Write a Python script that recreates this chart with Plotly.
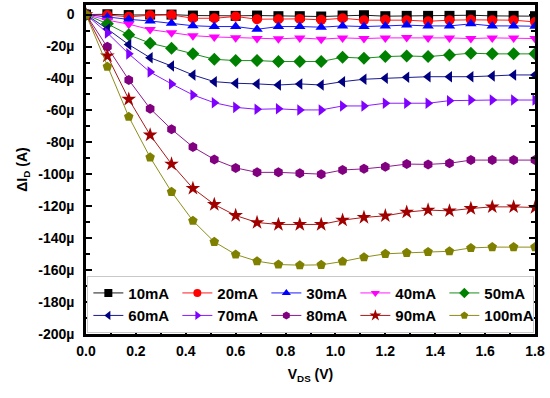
import plotly.graph_objects as go

vds = [0, 0.0857, 0.1714, 0.2571, 0.3429, 0.4286, 0.5143, 0.6, 0.6857, 0.7714, 0.8571,
       0.9429, 1.0286, 1.1143, 1.2, 1.2857, 1.3714, 1.4571, 1.5429, 1.6286, 1.7143, 1.8]

# delta I_D in microamps
i10 = [0, 0.2, -0.3, 0, 0, -0.6, -0.8, -0.8, -0.6, -1.0, -1.0, -1.2, -0.6, -0.4, -1.0, -0.8, -0.8, -0.8, -0.4, -0.8, -0.8, -1.0]
i20 = [0, -0.3, -1.4, -0.4, -0.2, -2.3, -2.3, -1.2, -2.9, -2.9, -2.7, -3.3, -2.3, -3.5, -3.3, -3.5, -4.2, -3.5, -3.3, -3.5, -3.5, -4.6]
i30 = [0, -1.5, -3.0, -4.0, -5.5, -7.0, -7.5, -7.5, -9.2, -7.5, -7.5, -7.9, -7.1, -7.5, -7.1, -6.6, -7.1, -7.1, -5.8, -7.1, -7.1, -7.3]
i40 = [0, -3.5, -6.0, -9.4, -11.3, -13.2, -14.0, -14.5, -15.0, -15.2, -14.6, -15.4, -14.6, -15.0, -14.6, -14.4, -14.6, -14.6, -15.0, -14.6, -14.6, -15.0]
i50 = [0, -5.8, -12.7, -17.9, -21.1, -24.6, -28.0, -28.8, -28.8, -29.4, -29.4, -29.4, -26.7, -27.3, -26.3, -25.9, -26.3, -25.3, -24.2, -24.6, -24.6, -24.6]
i60 = [0, -9.0, -18.8, -27.0, -32.2, -37.8, -42.0, -43.0, -43.4, -44.1, -43.4, -44.1, -42.0, -40.5, -39.9, -39.3, -38.9, -38.9, -38.9, -38.4, -37.8, -37.8]
i70 = [0, -11.5, -24.6, -36.0, -43.4, -50.3, -55.2, -58.1, -59.3, -59.0, -59.7, -59.7, -57.2, -57.2, -55.5, -55.5, -55.5, -53.9, -53.5, -53.5, -53.5, -53.5]
i80 = [0, -20.1, -40.9, -58.9, -71.8, -82.9, -90.7, -96.0, -98.8, -98.8, -99.4, -99.9, -97.3, -96.6, -95.3, -93.6, -93.8, -93.1, -91.1, -91.1, -91.1, -91.1]
i90 = [0, -25.9, -53.0, -75.4, -93.6, -108.8, -118.9, -125.8, -130.2, -131.4, -131.4, -131.4, -128.7, -127.0, -126.0, -123.7, -122.4, -122.9, -121.4, -120.4, -120.4, -120.8]
i100 = [0, -32.6, -64.0, -89.4, -111.0, -129.1, -142.3, -150.2, -154.4, -156.5, -156.9, -156.7, -154.6, -151.9, -149.8, -149.2, -148.6, -148.2, -146.1, -145.6, -145.6, -145.6]

names = ["10mA", "20mA", "30mA", "40mA", "50mA", "60mA", "70mA", "80mA", "90mA", "100mA"]
series = [i10, i20, i30, i40, i50, i60, i70, i80, i90, i100]
colors = ["#000000", "#FF0000", "#0000FF", "#FF00FF", "#008000",
          "#000080", "#8000FF", "#800080", "#A00000", "#808000"]
symbols = ["square", "circle", "triangle-up", "triangle-down", "diamond",
           "triangle-left", "triangle-right", "hexagon", "star", "pentagon"]

xtick_vals = [0, 0.2, 0.4, 0.6, 0.8, 1.0, 1.2, 1.4, 1.6, 1.8]
xtick_text = ["0.0", "0.2", "0.4", "0.6", "0.8", "1.0", "1.2", "1.4", "1.6", "1.8"]
ytick_vals = [0, -20, -40, -60, -80, -100, -120, -140, -160, -180, -200]
ytick_text = ["0", "-20µ", "-40µ", "-60µ", "-80µ", "-100µ", "-120µ", "-140µ", "-160µ", "-180µ", "-200µ"]

FONT = "Arial, 'Liberation Sans', sans-serif"

fig = go.Figure()
for name, ys, c, s in zip(names, series, colors, symbols):
    fig.add_trace(go.Scatter(
        x=vds, y=ys, name=name, mode="lines+markers", showlegend=False,
        line=dict(color=c, width=0.9),
        marker=dict(symbol=s, color=c, size=10 if s != "star" else 11, line=dict(width=0)),
    ))
# legend entries (smaller symbols, as in the reference legend)
for name, c, s in zip(names, colors, symbols):
    fig.add_trace(go.Scatter(
        x=[None], y=[None], name=name, mode="lines+markers", showlegend=True,
        line=dict(color=c, width=0.9),
        marker=dict(symbol=s, color=c, size=8 if s != "star" else 9, line=dict(width=0)),
    ))

fig.update_layout(
    width=550, height=398,
    margin=dict(l=86, r=15, t=5, b=64),
    paper_bgcolor="white", plot_bgcolor="white",
    font=dict(family=FONT, size=14, color="black", weight="bold"),
    showlegend=True,
    legend=dict(
        orientation="h", x=0.003, y=0.004, xanchor="left", yanchor="bottom",
        bgcolor="white", bordercolor="#C8C8C8", borderwidth=1,
        font=dict(family=FONT, size=15, color="black", weight="bold"),
        entrywidth=44, tracegroupgap=0, itemwidth=30,
    ),
)

fig.update_xaxes(
    range=[0, 1.8], tickmode="array", tickvals=xtick_vals, ticktext=xtick_text,
    ticks="inside", ticklen=6, tickwidth=2, tickcolor="black",
    minor=dict(ticks="inside", ticklen=4, tickwidth=1.5, tickcolor="black", dtick=0.1),
    showline=True, linewidth=2.5, linecolor="black", mirror=True,
    showgrid=False, zeroline=False, automargin=False,
    tickfont=dict(size=14), ticklabelstandoff=2,
    title=dict(text="V<sub>DS</sub> (V)", font=dict(size=14), standoff=12),
)
fig.update_yaxes(
    range=[-200, 6], tickmode="array", tickvals=ytick_vals, ticktext=ytick_text,
    ticks="inside", ticklen=6, tickwidth=2, tickcolor="black",
    minor=dict(ticks="inside", ticklen=4, tickwidth=1.5, tickcolor="black",
               tickvals=[-10, -30, -50, -70, -90, -110, -130, -150, -170, -190]),
    showline=True, linewidth=2.5, linecolor="black", mirror="ticks",
    showgrid=False, zeroline=False, automargin=False,
    tickfont=dict(size=14), ticklabelstandoff=6,
    title=dict(text="ΔI<sub>D</sub> (A)", font=dict(size=14), standoff=8),
)

fig.write_html("out.html", config={"displayModeBar": False},
               post_script="document.body.style.margin='0';")
